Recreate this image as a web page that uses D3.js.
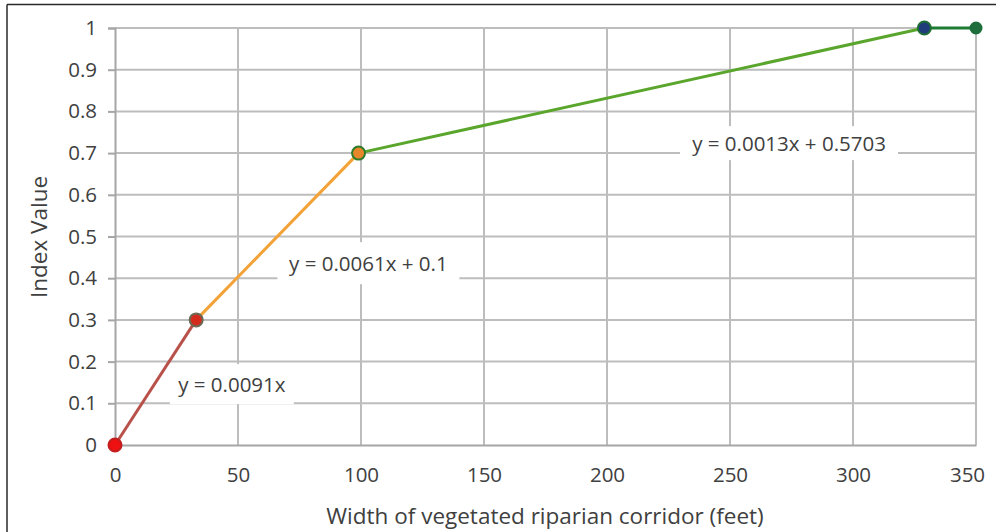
<!DOCTYPE html>
<html><head><meta charset="utf-8">
<script src="https://cdn.jsdelivr.net/npm/d3@7"></script>
<style>html,body{margin:0;padding:0;background:#fff;} svg{display:block;}</style>
</head><body>
<svg id="c" width="996" height="532"></svg>
<script>
// ---- data ----
const pointX = [0, 33, 99, 329, 350];
const pointY = [0, 0.3, 0.7, 1, 1];
const segmentNames = ["0-33", "33-99", "99-329", "329-350"];
const equations = ["y = 0.0091x", "y = 0.0061x + 0.1", "y = 0.0013x + 0.5703"];
const xTicks = [0, 50, 100, 150, 200, 250, 300, 350];
const yTicks = [0, 0.1, 0.2, 0.3, 0.4, 0.5, 0.6, 0.7, 0.8, 0.9, 1];
const xTitle = "Width of vegetated riparian corridor (feet)";
const yTitle = "Index Value";

// ---- styles / layout ----
const segColors = ["#b9514b", "#f2a236", "#5aa62c", "#1c7a34"];
const ptFill = ["#ee1111", "#d42a1e", "#e8862a", "#1f3d7a", "#1d6e3a"];
const ptStroke = ["#c02020", "#6b6b55", "#2f7d2a", "#1f6e35", "#1d6e3a"];
const ptR = [6.5, 6.5, 6.5, 6.5, 5.5];
const eqPos = [[47.5, 0.146], [103, 0.436], [274, 0.724]]; // label centres in data units
const eqBox = [[124, 40], [182, 42], [218, 34]];
const font = "'Open Sans', 'Noto Sans', sans-serif";
const textColor = "#404040";
const tickSize = 20.5, eqSize = 20.5, titleSize = 22.5;

const svg = d3.select("#c");
const x = d3.scaleLinear().domain([0, 350]).range([115, 976]);
const y = d3.scaleLinear().domain([0, 1]).range([445, 28]);

// outer border (top + left)
svg.append("line").attr("x1", 7).attr("x2", 996).attr("y1", 4.5).attr("y2", 4.5)
  .attr("stroke", "#2a2a2a").attr("stroke-width", 1.5);
svg.append("line").attr("x1", 7).attr("x2", 7).attr("y1", 4.5).attr("y2", 532)
  .attr("stroke", "#2a2a2a").attr("stroke-width", 1.5);

// gridlines
const grid = svg.append("g");
grid.selectAll(".hg").data(yTicks.filter(d => d > 0)).join("line")
  .attr("x1", x(0)).attr("x2", x(350)).attr("y1", d => y(d)).attr("y2", d => y(d))
  .attr("stroke", "#bdbdbd").attr("stroke-width", 2);
grid.selectAll(".vg").data(xTicks.filter(d => d > 0)).join("line")
  .attr("x1", d => x(d)).attr("x2", d => x(d)).attr("y1", y(1)).attr("y2", y(0))
  .attr("stroke", "#bdbdbd").attr("stroke-width", 2);

// y axis
const yAxis = svg.append("g").attr("transform", `translate(${x(0)},0)`)
  .call(d3.axisLeft(y).tickValues(yTicks).tickFormat(d => d3.format("~g")(d)).tickSize(7).tickPadding(11));
yAxis.select(".domain").attr("stroke", "#a6a6a6").attr("stroke-width", 2);
yAxis.selectAll(".tick line").attr("stroke", "#a6a6a6").attr("stroke-width", 2);
yAxis.selectAll("text").attr("font-family", font).attr("font-size", tickSize).attr("fill", textColor);

// x axis
const xAxis = svg.append("g").attr("transform", `translate(0,${y(0)})`)
  .call(d3.axisBottom(x).tickValues(xTicks).tickSize(0).tickPadding(22));
xAxis.select(".domain").attr("stroke", "#a6a6a6").attr("stroke-width", 2);
xAxis.selectAll("text").attr("font-family", font).attr("font-size", tickSize).attr("fill", textColor)
  .attr("dx", d => d === 350 ? -9 : 0);

// equation label boxes
const eqG = svg.append("g");
equations.forEach((t, i) => {
  const cx = x(eqPos[i][0]), cy = y(eqPos[i][1]);
  eqG.append("rect").attr("x", cx - eqBox[i][0] / 2).attr("y", cy - eqBox[i][1] / 2)
    .attr("width", eqBox[i][0]).attr("height", eqBox[i][1]).attr("fill", "#fff");
  eqG.append("text").attr("x", cx).attr("y", cy).attr("text-anchor", "middle")
    .attr("dominant-baseline", "central").attr("font-family", font).attr("font-size", eqSize)
    .attr("fill", textColor).text(t);
});

// segments
const segs = segmentNames.map((n, i) => [[pointX[i], pointY[i]], [pointX[i + 1], pointY[i + 1]]]);
svg.append("g").selectAll("path").data(segs).join("path")
  .attr("d", d3.line().x(d => x(d[0])).y(d => y(d[1])))
  .attr("fill", "none").attr("stroke", (d, i) => segColors[i]).attr("stroke-width", 3);

// points
svg.append("g").selectAll("circle").data(pointX).join("circle")
  .attr("cx", d => x(d)).attr("cy", (d, i) => y(pointY[i])).attr("r", (d, i) => ptR[i])
  .attr("fill", (d, i) => ptFill[i]).attr("stroke", (d, i) => ptStroke[i]).attr("stroke-width", 2);

// axis titles
svg.append("text").attr("x", 545).attr("y", 515).attr("text-anchor", "middle")
  .attr("dominant-baseline", "central").attr("font-family", font).attr("font-size", titleSize)
  .attr("fill", textColor).text(xTitle);
svg.append("text").attr("transform", "translate(38,237) rotate(-90)").attr("text-anchor", "middle")
  .attr("dominant-baseline", "central").attr("font-family", font).attr("font-size", titleSize)
  .attr("fill", textColor).text(yTitle);
</script>
</body></html>
